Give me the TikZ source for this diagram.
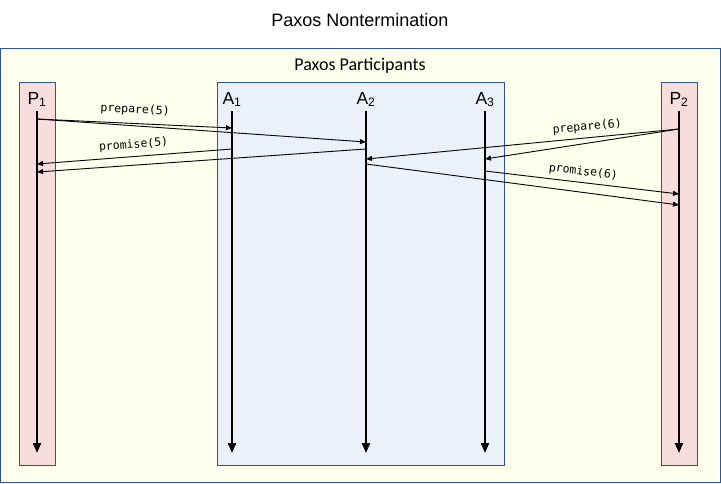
\documentclass[tikz,border=0pt]{standalone}
\usepackage{fontspec}
\setmainfont{Liberation Sans}
\setmonofont{DejaVu Sans Mono}
\newfontfamily\calibrifont{Carlito}
\usetikzlibrary{calc}
\usetikzlibrary{arrows.meta}
\definecolor{frameline}{RGB}{ 47,  84, 150}
\definecolor{paperbg}{RGB}{255, 255, 238}
\definecolor{proposerbg}{RGB}{248, 221, 221}
\definecolor{acceptorbg}{RGB}{234, 241, 249}

\begin{document}
\begin{tikzpicture}[x=1pt, y=-1pt, text depth=0pt,
	lifeline/.style={line width=2pt, -{Triangle[width=8pt, length=10pt]}},
	msg/.style={line width=0.9pt, -{Triangle[width=5pt, length=6pt]}},
	msglabel/.style={sloped, above=5pt, inner sep=2pt, font=\fontsize{11.5}{12}\ttfamily},
	box/.style={draw=frameline, line width=1pt}]
	\useasboundingbox (0, 0) rectangle (721, 483);

	% title and outer frame
	\node[anchor=base] (title) at (360, 26) {\fontsize{18}{20}\selectfont Paxos Nontermination};
	\filldraw[box, fill=paperbg] (0.5, 48.5) rectangle (720.5, 482);
	\node[anchor=base] (group) at (360, 70) {\fontsize{18}{20}\calibrifont Paxos Participants};

	% proposer and acceptor boxes
	\filldraw[box, fill=proposerbg] ( 19, 82) rectangle ( 55, 465);
	\filldraw[box, fill=acceptorbg] (217, 82) rectangle (504, 465);
	\filldraw[box, fill=proposerbg] (661, 82) rectangle (697, 465);

	% lifelines
	\foreach \n/\x/\lab in {
		P1/ 37/P\textsubscript{1},
		A1/232/A\textsubscript{1},
		A2/366/A\textsubscript{2},
		A3/485/A\textsubscript{3},
		P2/679/P\textsubscript{2}
	}{
		\node[anchor=base] (\n) at (\x, 104) {\fontsize{17.5}{19}\selectfont \lab};
		\coordinate (\n-top) at (\x, 111);
		\coordinate (\n-end) at (\x, 453);
		\draw[lifeline] (\n-top) -- (\n-end);
	}

	% prepare(5) and promise(5)
	\draw[msg] ($(P1-top)+(0, 8)$) -- node[msglabel, above=3pt] {prepare(5)} ($(A1-top)+(0, 17)$);
	\draw[msg] ($(P1-top)+(0, 8)$) -- ($(A2-top)+(0, 31)$);
	\draw[msg] ($(A1-top)+(0, 38)$) -- node[msglabel, above=1pt] {promise(5)} ($(P1-top)+(0, 53)$);
	\draw[msg] ($(A2-top)+(0, 38)$) -- ($(P1-top)+(0, 61)$);

	% prepare(6) and promise(6)
	\draw[msg] ($(P2-top)+(0, 18)$) -- ($(A3-top)+(0, 48)$);
	\draw[msg] ($(P2-top)+(0, 18)$) -- node[msglabel, pos=0.29] {prepare(6)} ($(A2-top)+(0, 48)$);
	\draw[msg] ($(A3-top)+(0, 60)$) -- node[msglabel] {promise(6)} ($(P2-top)+(0, 83)$);
	\draw[msg] ($(A2-top)+(0, 53)$) -- ($(P2-top)+(0, 94)$);
\end{tikzpicture}
\end{document}
